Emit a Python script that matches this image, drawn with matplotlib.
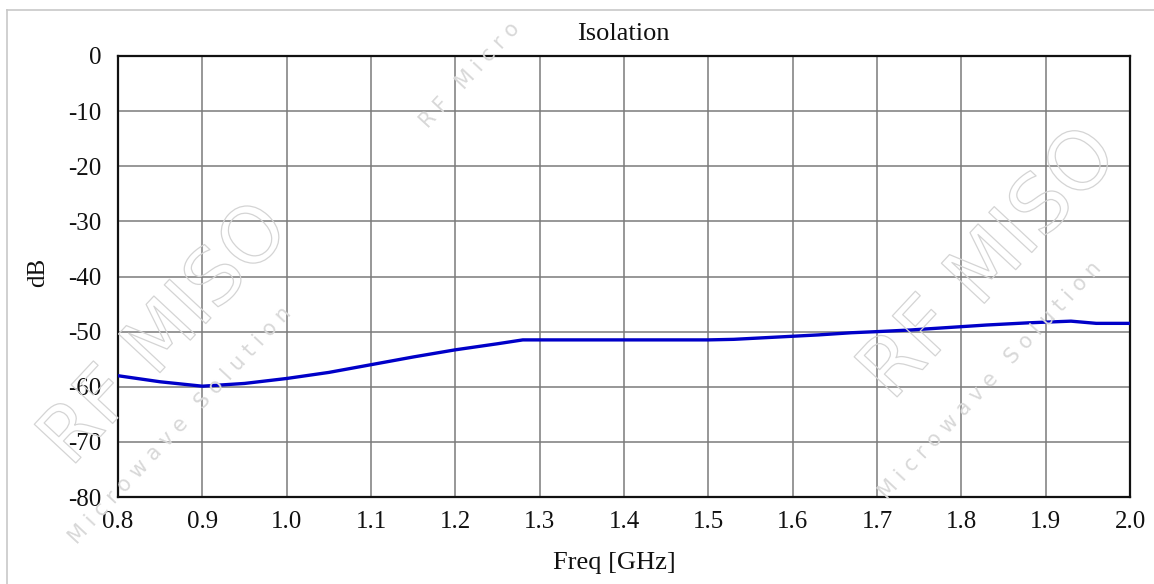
import matplotlib
matplotlib.use("Agg")
import matplotlib.pyplot as plt
import matplotlib.patheffects as pe
from matplotlib.lines import Line2D

# ---- data ----
freq_ghz = [0.80, 0.85, 0.90, 0.95, 1.00, 1.05, 1.10, 1.15, 1.20, 1.25, 1.28,
            1.35, 1.40, 1.45, 1.50, 1.53, 1.58, 1.63, 1.67, 1.70, 1.74, 1.78,
            1.83, 1.88, 1.93, 1.96, 2.00]
isolation_db = [-58.0, -59.1, -59.9, -59.4, -58.5, -57.4, -56.0, -54.6, -53.3,
                -52.2, -51.5, -51.5, -51.5, -51.5, -51.5, -51.4, -51.0, -50.6,
                -50.2, -50.0, -49.7, -49.3, -48.8, -48.4, -48.1, -48.5, -48.5]
x_ticks = [0.8, 0.9, 1.0, 1.1, 1.2, 1.3, 1.4, 1.5, 1.6, 1.7, 1.8, 1.9, 2.0]
y_ticks = [0, -10, -20, -30, -40, -50, -60, -70, -80]
title = "Isolation"
x_label = "Freq [GHz]"
y_label = "dB"

W, H = 1154, 584
fig = plt.figure(figsize=(W / 100, H / 100), dpi=100)
fig.patch.set_facecolor("white")

FONT = "Liberation Serif"

# outer light frame: top and left edges only
fig.lines.append(Line2D([7 / W, 1.0], [1 - 10 / H, 1 - 10 / H], transform=fig.transFigure,
                        color="#c8c8c8", linewidth=1.2))
fig.lines.append(Line2D([7 / W, 7 / W], [0.0, 1 - 10 / H], transform=fig.transFigure,
                        color="#c8c8c8", linewidth=1.2))

# watermarks (faint outlined text)
wm = dict(color="none", fontfamily="DejaVu Sans", transform=fig.transFigure,
          ha="center", va="center", zorder=0)
stroke = [pe.Stroke(linewidth=0.9, foreground="#d4d4d4")]
fig.text(165 / W, 1 - 335 / H, "RF MISO", fontsize=56, rotation=47,
         path_effects=stroke, **wm)
fig.text(990 / W, 1 - 265 / H, "RF MISO", fontsize=58, rotation=47,
         path_effects=stroke, **wm)
small = dict(color="#d8d8d8", fontfamily="DejaVu Sans", transform=fig.transFigure,
             ha="center", va="center", zorder=0, fontsize=15)
fig.text(180 / W, 1 - 425 / H, "M i c r o w a v e   S o l u t i o n", rotation=47, **small)
fig.text(990 / W, 1 - 380 / H, "M i c r o w a v e   S o l u t i o n", rotation=47, **small)
fig.text(470 / W, 1 - 75 / H, "R F   M i c r o", rotation=47, **small)

ax = fig.add_axes([118 / W, 1 - 497 / H, (1130 - 118) / W, (497 - 56) / H])
ax.set_facecolor("none")
ax.plot(freq_ghz, isolation_db, color="#0000c8", linewidth=2.4,
        solid_joinstyle="round", zorder=3)

ax.set_xlim(0.8, 2.0)
ax.set_ylim(-80, 0)
ax.set_xticks(x_ticks)
ax.set_yticks(y_ticks)
ax.set_xticklabels([f"{v:.1f}" for v in x_ticks], fontfamily=FONT, fontsize=18)
ax.set_yticklabels([f"{v:d}" for v in y_ticks], fontfamily=FONT, fontsize=18)
ax.tick_params(axis="both", length=0, colors="#111111")
ax.tick_params(axis="x", pad=10)
ax.tick_params(axis="y", pad=12)
ax.grid(True, color="#7a7a7a", linewidth=1.1)
ax.set_axisbelow(True)
for s in ax.spines.values():
    s.set_linewidth(1.6)
    s.set_color("#111111")

fig.text(623 / W, 1 - 34 / H, title, fontfamily=FONT, fontsize=19,
         ha="center", va="center", color="#111111")
fig.text(614 / W, 1 - 563 / H, x_label, fontfamily=FONT, fontsize=19,
         ha="center", va="center", color="#111111")
fig.text(38 / W, 1 - 272 / H, y_label, fontfamily=FONT, fontsize=18,
         ha="center", va="center", rotation=90, color="#111111")

fig.savefig("out.png", dpi=100, facecolor="white")
